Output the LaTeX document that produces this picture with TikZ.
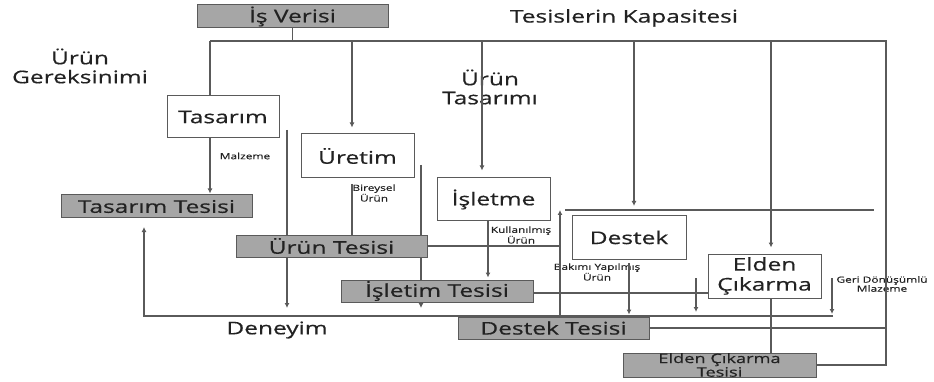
\documentclass[tikz,border=0pt]{standalone}
\usepackage{fontspec}
\setmainfont{Open Sans}[FakeStretch=1.4,FakeBold=0.5]
\usetikzlibrary{arrows.meta}
\definecolor{kutugri}{HTML}{A6A6A6}
\definecolor{cizgi}{HTML}{5A5A5A}
\definecolor{yazi}{HTML}{222222}

\begin{document}
\begin{tikzpicture}[x=1pt,y=-1pt,text=yazi,
  surec/.style={draw=cizgi,line width=1pt,fill=white,minimum width=113pt,minimum height=43pt,inner sep=0pt,align=center,font=\fontsize{17.5}{20}\selectfont},
  tesis/.style={draw=cizgi,line width=1pt,fill=kutugri,minimum width=191pt,minimum height=23pt,inner sep=0pt,align=center,font=\fontsize{17.5}{20}\selectfont},
  etiket/.style={align=center,font=\fontsize{17.5}{19}\selectfont},
  kucuk/.style={align=center,font=\fontsize{8.5}{9}\selectfont},
  hat/.style={draw=cizgi,line width=1.2pt},
  ok/.style={hat,-{Latex[length=5pt,width=5pt]}}]
\useasboundingbox (0,0) rectangle (934,382);

% kutular
\node[tesis] (isverisi) at (292.5,16.5) {İş Verisi};
\node[surec,minimum width=112pt,minimum height=42pt] (tasarim) at (223,117) {Tasarım};
\node[surec,minimum height=44pt] (uretim) at (357.5,156) {Üretim};
\node[surec] (isletme) at (493.5,199.5) {İşletme};
\node[surec,minimum width=114pt] (destek) at (629,237.5) {Destek};
\node[surec,minimum height=44pt] (elden) at (764.5,276) {Elden\\Çıkarma};

\node[tesis] (tTesis) at (156.5,206.5) {Tasarım Tesisi};
\node[tesis,minimum height=22pt] (uTesis) at (331.5,246) {Ürün Tesisi};
\node[tesis,minimum width=192pt,minimum height=22pt] (iTesis) at (437,291) {İşletim Tesisi};
\node[tesis,minimum height=22pt] (dTesis) at (553.5,328) {Destek Tesisi};
\node[tesis,minimum width=193pt,minimum height=24pt,font=\fontsize{13}{10}\selectfont] (eTesis) at (719.5,365) {Elden Çıkarma\\Tesisi};

% yazilar
\node[etiket] (kapasite) at (624,18) {Tesislerin Kapasitesi};
\node[etiket] (gereksinim) at (80,66) {Ürün\\Gereksinimi};
\node[etiket] (urunTas) at (490,87) {Ürün\\Tasarımı};
\node[etiket] (deneyim) at (277,330) {Deneyim};
\node[kucuk] (malzeme) at (245,156) {Malzeme};
\node[kucuk] (bireysel) at (374,193) {Bireysel\\Ürün};
\node[kucuk] (kullanilmis) at (521,235) {Kullanılmış\\Ürün};
\node[kucuk] (bakimi) at (597,272) {Bakımı Yapılmış\\Ürün};
\node[kucuk] (geri) at (882,284) {Geri Dönüşümlü\\Mlazeme};

\coordinate (busL) at (210,41);
\coordinate (busR) at (886,41);
\coordinate (kUretim) at (352,41);
\coordinate (kIsletme) at (482,41);
\coordinate (kDestek) at (634,41);
\coordinate (kElden) at (771,41);
\coordinate (deneyimR) at (833,316);
\coordinate (deneyimL) at (144,316);
\coordinate (deneyimUc) at (144,227);
\coordinate (destekHat) at (560,210);
\coordinate (destekHatR) at (874,210);
\coordinate (solHat) at (287,130);
\coordinate (solUc) at (287,308);
\coordinate (bireyselUst) at (352,184);
\coordinate (sagHat) at (421,165);
\coordinate (sagUc) at (421,308);
\coordinate (kullanUst) at (488,221);
\coordinate (bakimUst) at (629,263);
\coordinate (ortaOk) at (696,278);
\coordinate (ortaUc) at (696,312);
\coordinate (geriOk) at (832,278);
\coordinate (geriUc) at (832,314);
\coordinate (isletimHat) at (533,293);

% ust hat
\draw[hat] (isverisi.south) -- (isverisi.south |- busL);
\draw[hat] (busL) -- (busR) -- (busR |- eTesis.east) -- (eTesis.east);
\draw[hat] (busL) -- (busL |- tasarim.north);
\draw[ok,shorten >=6pt] (kUretim) -- (kUretim |- uretim.north);
\draw[ok,shorten >=7pt] (kIsletme) -- (kIsletme |- isletme.north);
\draw[ok,shorten >=4pt] (kDestek) -- (kDestek |- destekHat);
\draw[ok,shorten >=6pt] (kElden) -- (kElden |- elden.north);

% tasarim ve urun
\draw[ok,shorten >=1pt] (busL |- tasarim.south) -- (busL |- tTesis.north);
\draw[hat] (solHat) -- (solHat |- uTesis.north);
\draw[ok] (solHat |- uTesis.south) -- (solUc);
\draw[hat] (bireyselUst) -- (bireyselUst |- uTesis.north);
\draw[hat] (sagHat) -- (sagHat |- uTesis.north);
\draw[hat] (sagHat |- uTesis.south) -- (sagHat |- iTesis.north);
\draw[ok] (sagHat |- iTesis.south) -- (sagUc);

% deneyim
\draw[ok] (deneyimR) -- (deneyimL) -- (deneyimUc);
\draw[ok] (ortaOk) -- (ortaUc);
\draw[ok] (geriOk) -- (geriUc);

% isletme ve destek
\draw[hat] (uTesis.east) -- (uTesis.east -| destekHat);
\draw[ok] (destekHat |- dTesis.north) -- (destekHat);
\draw[hat] ([xshift=5pt]destekHat) -- (destekHatR);
\draw[ok,shorten >=2pt] (kullanUst) -- (kullanUst |- iTesis.north);
\draw[hat] (isletimHat) -- (isletimHat -| elden.west);
\draw[ok,shorten >=2pt] (bakimUst) -- (bakimUst |- dTesis.north);
\draw[hat] (dTesis.east) -- (dTesis.east -| busR);
\draw[hat] (kElden |- elden.south) -- (kElden |- eTesis.north);
\end{tikzpicture}
\end{document}
